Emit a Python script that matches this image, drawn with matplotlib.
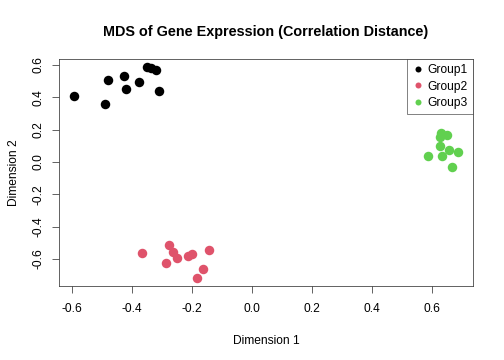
import matplotlib
matplotlib.use("Agg")
import matplotlib.pyplot as plt
from matplotlib.lines import Line2D

plt.rcParams["font.family"] = ["Liberation Sans", "DejaVu Sans"]

# MDS coordinates
g1_x = [-0.591, -0.489, -0.478, -0.424, -0.418, -0.374, -0.350, -0.334, -0.317, -0.309]
g1_y = [0.409, 0.356, 0.504, 0.531, 0.451, 0.494, 0.584, 0.578, 0.566, 0.436]
g2_x = [-0.365, -0.274, -0.262, -0.249, -0.285, -0.211, -0.197, -0.142, -0.163, -0.183]
g2_y = [-0.564, -0.510, -0.553, -0.590, -0.626, -0.578, -0.570, -0.545, -0.662, -0.714]
g3_x = [0.630, 0.627, 0.651, 0.627, 0.658, 0.687, 0.587, 0.636, 0.668]
g3_y = [0.179, 0.156, 0.167, 0.101, 0.072, 0.060, 0.035, 0.039, -0.031]

groups = ["Group1", "Group2", "Group3"]
colors = ["#000000", "#DF536B", "#61D04F"]
xticks = [-0.6, -0.4, -0.2, 0.0, 0.2, 0.4, 0.6]
yticks = [-0.6, -0.4, -0.2, 0.0, 0.2, 0.4, 0.6]

fig = plt.figure(figsize=(7, 5), dpi=72)
ax = fig.add_axes([0.117, 0.2056, 0.8215, 0.6304])

for xs, ys, c in zip([g1_x, g2_x, g3_x], [g1_y, g2_y, g3_y], colors):
    ax.plot(xs, ys, "o", color=c, markersize=9.5, markeredgewidth=0)

# R style: 4% padding around data range
allx = g1_x + g2_x + g3_x
ally = g1_y + g2_y + g3_y
px = (max(allx) - min(allx)) * 0.04
py = (max(ally) - min(ally)) * 0.04
ax.set_xlim(min(allx) - px, max(allx) + px)
ax.set_ylim(min(ally) - py, max(ally) + py)

ax.set_xticks(xticks)
ax.set_yticks(yticks)
ax.set_xticklabels([f"{t:.1f}" for t in xticks])
ax.set_yticklabels([f"{t:.1f}" for t in yticks], rotation=90, va="center")
ax.tick_params(direction="out", length=7, width=0.75, labelsize=12, color="#333333")
ax.tick_params(axis="x", pad=10)
ax.tick_params(axis="y", pad=7)
for s in ax.spines.values():
    s.set_linewidth(0.75)
    s.set_color("#333333")

ax.set_xlabel("Dimension 1", fontsize=12, labelpad=20)
ax.set_ylabel("Dimension 2", fontsize=12, labelpad=13)
ax.set_title("MDS of Gene Expression (Correlation Distance)", fontsize=14.4,
             fontweight="bold", pad=23)

handles = [Line2D([], [], marker="o", linestyle="", color=c, markersize=6,
                  markeredgewidth=0) for c in colors]
leg = ax.legend(handles, groups, loc="upper right", fontsize=12, frameon=True,
                fancybox=False, borderaxespad=0, handletextpad=0.35,
                handlelength=0.9, labelspacing=0.35, borderpad=0.45)
leg.get_frame().set_edgecolor("#333333")
leg.get_frame().set_linewidth(0.75)

fig.savefig("out.png", dpi=72)
